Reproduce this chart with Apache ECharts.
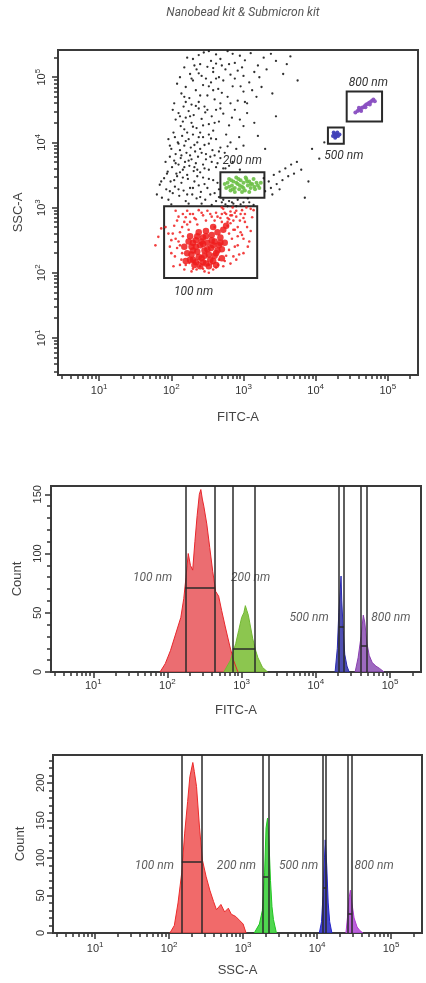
<!DOCTYPE html>
<html>
<head>
<meta charset="utf-8">
<script src="https://cdn.jsdelivr.net/npm/echarts@6/dist/echarts.min.js"></script>
<style>
html, body { margin: 0; padding: 0; background: #fff; }
#chart { width: 426px; height: 983px; }
</style>
</head>
<body>
<div id="chart"></div>
<script>
// all axes are log10 of the signal, range of the cytometer (top = 2^18)
const logMin = 0.43
const logMax = 5.418
const decades = [1, 2, 3, 4, 5]
const decadeExp = ['1', '2', '3', '4', '5']

// ---- dot plot FITC-A / SSC-A, [log FITC, log SSC] ----
const dotsNoise = [
  [2.45,5.38],[2.62,5.35],[2.78,5.40],[2.95,5.33],[3.10,5.37],[3.28,5.30],[2.30,5.28],[2.55,5.25],[2.88,5.22],[3.45,5.25],[2.70,5.18],
  [2.18,5.15],[2.26,5.05],[2.35,5.12],[2.42,5.02],[2.50,5.16],[2.58,5.08],[2.66,5.00],[2.75,5.12],[2.82,5.04],[2.92,5.10],[3.00,5.02],[3.15,5.08],[3.32,5.12],[3.55,5.05],[2.40,5.20],[2.62,5.21],[2.48,4.98],
  [2.08,4.90],[2.14,4.75],[2.20,4.85],[2.25,4.68],[2.30,4.95],[2.34,4.80],[2.38,4.62],[2.44,4.88],[2.50,4.72],[2.55,4.92],[2.60,4.66],[2.65,4.82],[2.72,4.95],[2.78,4.70],[2.85,4.86],[2.92,4.64],[3.00,4.78],[3.08,4.92],[3.18,4.70],[3.25,4.85],[2.28,4.58],[2.46,4.55],[2.68,4.60],[2.20,4.62],[3.40,4.75],
  [2.02,4.50],[2.06,4.35],[2.10,4.45],[2.13,4.25],[2.17,4.55],[2.20,4.38],[2.24,4.48],[2.28,4.30],[2.31,4.42],[2.35,4.22],[2.38,4.52],[2.42,4.36],[2.47,4.46],[2.52,4.28],[2.56,4.40],[2.62,4.50],[2.66,4.32],[2.72,4.44],[2.80,4.26],[2.88,4.50],[2.95,4.35],[3.05,4.45],[3.15,4.30],[2.18,4.20],[2.40,4.15],[2.58,4.18],[2.76,4.12],
  [1.96,4.05],[2.00,3.90],[2.03,4.15],[2.06,3.82],[2.09,4.00],[2.12,3.88],[2.15,4.10],[2.18,3.95],[2.21,3.84],[2.24,4.05],[2.27,3.92],[2.30,4.12],[2.33,3.86],[2.36,4.00],[2.40,3.90],[2.44,4.08],[2.48,3.82],[2.52,3.98],[2.57,3.88],[2.62,4.05],[2.68,3.92],[2.74,3.84],[2.82,4.00],[2.90,3.90],[3.00,3.95],[2.10,3.98],[2.26,3.80],[2.46,3.96],[2.60,3.80],
  [1.92,3.70],[1.95,3.55],[1.98,3.78],[2.01,3.62],[2.04,3.72],[2.07,3.52],[2.10,3.66],[2.13,3.76],[2.16,3.58],[2.19,3.70],[2.22,3.50],[2.25,3.64],[2.28,3.74],[2.31,3.56],[2.34,3.68],[2.37,3.78],[2.40,3.54],[2.44,3.66],[2.48,3.74],[2.52,3.58],[2.56,3.70],[2.62,3.62],[2.68,3.76],[2.75,3.60],[2.85,3.70],[2.95,3.58],[2.12,3.54],[2.32,3.62],
  [1.80,3.20],[1.84,3.35],[1.87,3.15],[1.90,3.45],[1.93,3.28],[1.96,3.12],[1.99,3.40],[2.02,3.22],[2.05,3.32],[2.08,3.48],[2.11,3.18],[2.14,3.38],[2.17,3.26],[2.20,3.10],[2.23,3.44],[2.26,3.30],[2.29,3.20],[2.32,3.40],[2.35,3.14],[2.38,3.34],[2.41,3.24],[2.44,3.46],[2.47,3.12],[2.50,3.30],[2.54,3.20],[2.58,3.42],[2.62,3.10],[2.66,3.28],[2.70,3.08],[2.75,3.05],[2.80,3.10],[2.86,3.06],[2.92,3.12],[3.00,3.08],[3.06,3.14],[2.00,3.05],[2.24,3.06],[2.42,3.06],[2.56,3.04],
  [3.30,3.25],[3.35,3.40],[3.38,3.30],[3.42,3.50],[3.46,3.36],[3.50,3.55],[3.54,3.42],[3.58,3.60],[3.62,3.48],[3.66,3.66],[3.70,3.52],[3.74,3.70],[3.40,3.20],[3.50,3.28],[3.28,3.45],[3.80,3.58],[3.95,3.90],[4.05,3.75],[4.12,4.00],[3.90,3.40],[3.85,3.15],
  [3.20,4.10],[3.30,3.90],[3.05,4.60],[3.45,4.40],[3.60,5.20],[3.75,4.95],
  [2.22,5.30],[2.38,5.34],[2.52,5.40],[2.68,5.28],[2.85,5.36],[3.02,5.26],[3.20,5.18],[3.38,5.36],[3.65,5.32],[2.32,5.18],[2.58,5.14],[2.80,5.20],[2.98,5.15],[3.22,5.00],
  [2.12,5.00],[2.28,4.98],[2.38,5.06],[2.52,4.86],[2.62,4.98],[2.70,4.76],[2.88,4.98],[2.96,4.86],[3.12,4.80],[2.18,4.70],[2.40,4.72],[2.58,4.80],[2.82,4.60],[3.02,4.62],
  [2.04,4.60],[2.12,4.40],[2.16,4.32],[2.26,4.40],[2.34,4.56],[2.44,4.26],[2.50,4.50],[2.60,4.30],[2.68,4.52],[2.84,4.38],[3.00,4.25],[2.22,4.15],[2.30,4.24],[2.52,4.12],
  [1.98,3.95],[2.05,4.08],[2.14,3.80],[2.20,4.02],[2.32,3.96],[2.38,4.08],[2.42,3.84],[2.55,4.06],[2.66,3.86],[2.78,3.94],[2.94,4.08],[2.06,3.68],[2.18,3.62],[2.24,3.72],[2.36,3.58],[2.46,3.60],[2.54,3.78],[2.64,3.68],[2.72,3.60],[2.80,3.64],
  [1.86,3.40],[1.94,3.52],[1.98,3.25],[2.04,3.42],[2.10,3.28],[2.16,3.46],[2.22,3.20],[2.30,3.30],[2.36,3.48],[2.40,3.16],[2.46,3.36],[2.52,3.44],[2.60,3.22],[2.64,3.38],[2.66,3.16],[2.72,3.12],[2.84,3.08],[2.96,3.05],[3.08,3.08],[3.14,3.04],[2.90,3.02],[2.78,3.02]
]
const dots100Core = [
  [2.22,2.30],[2.28,2.40],[2.30,2.20],[2.34,2.50],[2.36,2.32],[2.40,2.42],[2.42,2.22],[2.44,2.54],[2.46,2.34],[2.48,2.14],[2.50,2.46],[2.52,2.28],[2.55,2.38],
  [2.56,2.58],[2.58,2.18],[2.60,2.48],[2.62,2.30],[2.64,2.62],[2.66,2.42],[2.68,2.54],[2.70,2.22],[2.72,2.66],[2.74,2.46],[2.76,2.72],[2.26,2.56],
  [2.32,2.12],[2.38,2.62],[2.18,2.40],[2.20,2.18],[2.28,2.28],[2.52,2.10],[2.40,2.10],[2.48,2.64],[2.62,2.12],[2.70,2.36],[2.58,2.70],
  [2.34,2.40],[2.44,2.44],[2.54,2.20],[2.24,2.48],[2.30,2.34],[2.38,2.24],[2.46,2.26],[2.50,2.36],[2.58,2.42],[2.64,2.34],[2.56,2.50],
  [2.42,2.48],[2.30,2.46],[2.36,2.56],[2.48,2.56],[2.60,2.26],[2.68,2.46],[2.26,2.20],[2.34,2.16],[2.44,2.16]
]
const dots100 = [
  [1.98,2.40],[2.02,2.60],[2.05,2.25],[2.08,2.80],[2.10,2.48],[2.12,2.12],[2.06,2.95],[2.15,2.70],[2.15,2.30],[2.18,2.05],[2.20,2.85],[2.22,2.95],[2.25,2.15],
  [2.28,2.02],[2.30,2.90],[2.34,2.82],[2.38,2.96],[2.40,2.10],[2.44,2.88],[2.46,2.02],[2.50,2.95],[2.52,2.12],[2.56,2.86],[2.58,2.05],[2.62,2.92],[2.65,2.12],
  [2.68,2.84],[2.72,2.98],[2.74,2.18],[2.78,2.72],[2.80,2.35],[2.82,2.88],[2.84,2.52],[2.86,2.25],[2.88,2.66],[2.90,2.95],[2.92,2.42],[2.95,2.80],[2.98,2.58],
  [3.00,2.30],[3.02,2.90],[3.05,2.70],[3.08,2.48],[3.10,2.98],[3.12,2.85],[2.00,2.50],[2.12,2.62],[2.26,2.78],[2.35,2.05],[2.60,2.80],[2.76,2.90],[2.90,2.20],
  [2.96,2.62],[3.04,3.00],[2.85,3.00],[2.70,3.00],[1.92,2.70],[2.03,2.10],[2.16,2.90],[1.82,2.55],[1.86,2.68],[1.78,2.42],
  [2.00,2.30],[2.04,2.72],[2.08,2.38],[2.10,2.86],[2.14,2.20],[2.16,2.56],[2.18,2.78],[2.20,2.12],[2.24,2.66],[2.26,2.90],[2.30,2.06],[2.32,2.84],[2.36,2.74],
  [2.38,2.16],[2.42,2.92],[2.44,2.06],[2.48,2.80],[2.52,2.00],[2.54,2.90],[2.56,2.14],[2.60,2.70],[2.62,2.08],[2.64,2.86],[2.66,2.20],[2.70,2.78],[2.72,2.10],
  [2.74,2.92],[2.76,2.26],[2.80,2.60],[2.82,2.14],[2.86,2.80],[2.88,2.40],[2.92,2.70],[2.94,2.28],[2.96,2.90],[3.00,2.52],[3.02,2.78],[3.06,2.40],[3.10,2.64],
  [3.14,2.96],[2.82,2.94],[2.90,2.86],[2.98,2.96],[2.86,2.66],[2.78,2.84],[2.70,2.90],[2.92,2.56],[3.00,2.84],[2.06,2.52],[2.12,2.42],[1.96,2.60],[2.22,2.74],
  [2.80,2.82],[2.84,2.88],[2.88,2.92],[2.78,2.78],[2.82,2.76]
]
const dots200 = [
  [2.76,3.30],[2.78,3.38],[2.80,3.44],[2.82,3.26],[2.84,3.34],[2.86,3.40],[2.88,3.30],[2.90,3.46],[2.92,3.36],[2.94,3.28],[2.96,3.42],[2.98,3.32],[3.00,3.38],
  [3.02,3.26],[3.04,3.44],[3.06,3.34],[3.08,3.40],[3.10,3.30],[3.12,3.36],[3.14,3.44],[3.16,3.28],[3.18,3.38],[3.20,3.34],[3.22,3.30],[2.80,3.32],[2.85,3.28],
  [2.90,3.38],[2.95,3.34],[3.00,3.30],[3.05,3.40],[3.10,3.36],[3.15,3.32],[2.83,3.42],[2.93,3.44],[3.03,3.46],[2.88,3.24],[2.98,3.24],[3.08,3.24],[2.74,3.36],[3.24,3.38]
]
const dots500 = [[4.24,4.10],[4.26,4.13],[4.28,4.09],[4.29,4.12],[4.30,4.15],[4.27,4.07],[4.31,4.10],[4.25,4.15],[4.33,4.12],[4.28,4.11]]
const dots800 = [
  [4.55,4.46],[4.58,4.48],[4.60,4.50],[4.62,4.50],[4.64,4.53],[4.66,4.54],[4.68,4.56],[4.70,4.58],[4.72,4.59],
  [4.74,4.61],[4.76,4.62],[4.78,4.64],[4.80,4.66],[4.63,4.48],[4.69,4.54],[4.75,4.58],[4.60,4.53],[4.82,4.63]
]
// rectangular gates: [name, x1, x2, y1, y2]
const dotGates = [
  ['100 nm', 1.90, 3.19, 1.92, 3.02],
  ['200 nm', 2.68, 3.29, 3.15, 3.54],
  ['500 nm', 4.17, 4.39, 3.98, 4.23],
  ['800 nm', 4.43, 4.92, 4.32, 4.78]
]

// ---- FITC-A histogram, [log FITC, count] ----
const fitc100 = [[1.90,0],[1.97,7],[2.04,18],[2.11,32],[2.18,46],[2.22,62],[2.25,80],[2.28,100],[2.31,90],[2.34,86],[2.37,110],[2.40,132],[2.43,150],[2.45,154],[2.47,146],[2.49,140],[2.53,125],[2.57,105],[2.61,85],[2.65,68],[2.69,64],[2.73,52],[2.78,38],[2.84,22],[2.89,10],[2.95,0]]
const fitc200 = [[2.76,0],[2.85,10],[2.92,24],[2.96,35],[3.00,46],[3.03,50],[3.05,56],[3.07,52],[3.09,48],[3.12,38],[3.15,28],[3.19,18],[3.22,12],[3.28,4],[3.35,0]]
const fitc500 = [[4.26,0],[4.29,20],[4.31,50],[4.33,70],[4.34,81],[4.35,60],[4.37,35],[4.39,15],[4.42,5],[4.45,0]]
const fitc800 = [[4.53,0],[4.57,12],[4.61,30],[4.64,48],[4.66,42],[4.69,24],[4.72,14],[4.76,8],[4.81,5],[4.86,3],[4.92,0]]
// interval gates: [name, left, right, bar level]
const fitcGates = [['100 nm', 2.24, 2.64, 71], ['200 nm', 2.88, 3.18, 20], ['500 nm', 4.31, 4.38, 38], ['800 nm', 4.61, 4.69, 22]]

// ---- SSC-A histogram, [log SSC, count] ----
const ssc100 = [[2.01,0],[2.07,10],[2.12,40],[2.17,80],[2.21,133],[2.25,175],[2.28,208],[2.32,227],[2.34,215],[2.37,195],[2.41,141],[2.45,97],[2.50,75],[2.55,57],[2.60,42],[2.64,31],[2.70,38],[2.75,28],[2.80,33],[2.84,25],[2.90,22],[2.95,17],[3.00,12],[3.04,0]]
const ssc200 = [[3.15,0],[3.22,12],[3.26,30],[3.29,80],[3.31,140],[3.33,153],[3.35,120],[3.37,70],[3.39,35],[3.41,18],[3.45,0]]
const ssc500 = [[4.03,0],[4.06,15],[4.08,50],[4.10,100],[4.11,124],[4.13,90],[4.15,40],[4.17,15],[4.20,0]]
const ssc800 = [[4.39,0],[4.41,20],[4.43,45],[4.45,57],[4.47,40],[4.50,20],[4.54,8],[4.58,3],[4.62,0]]
const sscGates = [['100 nm', 2.17, 2.44, 95], ['200 nm', 3.27, 3.34, 75], ['500 nm', 4.08, 4.12, 60], ['800 nm', 4.42, 4.47, 25]]

// minor log ticks 2..9 of every decade
const minorLogs = []
for (let d = 0; d <= 5; d++) {
  for (let k = 2; k <= 9; k++) {
    const v = d + Math.log10(k)
    if (v > logMin && v < logMax) minorLogs.push(v)
  }
}

const dark = '#333'
const labelFont = { fontFamily: 'Liberation Sans', fontSize: 11, color: '#333' }
const nameFont = { fontFamily: 'Liberation Sans', fontSize: 13, color: '#444' }
const gateFont = { fontFamily: 'Roboto', fontStyle: 'italic', fontSize: 12, color: '#333' }
const powRich = {
  b: { fontFamily: 'Liberation Sans', fontSize: 11, color: '#333', lineHeight: 12 },
  e: { fontFamily: 'Liberation Sans', fontSize: 8, color: '#333', padding: [0, 0, 9, 0], lineHeight: 8 }
}

function logAxis(dim, grid, name, nameGap, margin) {
  const pos = dim === 'x' ? 'bottom' : 'left'
  return [{
    type: 'value', gridIndex: grid, min: logMin, max: logMax, position: pos,
    name: name, nameLocation: 'middle', nameGap: nameGap, nameTextStyle: nameFont,
    axisLine: { show: false }, splitLine: { show: false },
    axisTick: { customValues: decades, length: 6, lineStyle: { color: dark, width: 1.5 } },
    axisLabel: {
      customValues: decades, margin: margin, rotate: dim === 'y' ? 90 : 0, rich: powRich,
      formatter: v => '{b|10}{e|' + decadeExp[Math.round(v) - 1] + '}'
    }
  }, {
    type: 'value', gridIndex: grid, min: logMin, max: logMax, position: pos,
    axisLine: { show: false }, splitLine: { show: false }, axisLabel: { show: false },
    axisTick: { customValues: minorLogs, length: 4, lineStyle: { color: dark, width: 1.5 } }
  }]
}

function countAxis(grid, max, majors, minors, nameGap, margin) {
  return [{
    type: 'value', gridIndex: grid, min: 0, max: max, position: 'left',
    name: 'Count', nameLocation: 'middle', nameGap: nameGap, nameTextStyle: nameFont,
    axisLine: { show: false }, splitLine: { show: false },
    axisTick: { customValues: majors, length: 6, lineStyle: { color: dark, width: 1.5 } },
    axisLabel: Object.assign({ customValues: majors, margin: margin, rotate: 90 }, labelFont)
  }, {
    type: 'value', gridIndex: grid, min: 0, max: max, position: 'left',
    axisLine: { show: false }, splitLine: { show: false }, axisLabel: { show: false },
    axisTick: { customValues: minors, length: 4, lineStyle: { color: dark, width: 1.5 } }
  }]
}

function dotSeries(data, color, size, opacity) {
  return {
    type: 'scatter', xAxisIndex: 0, yAxisIndex: 0, data: data, symbolSize: size, silent: true,
    itemStyle: { color: color, opacity: opacity }
  }
}

function histSeries(panel, data, line, fill) {
  return {
    type: 'line', xAxisIndex: panel * 2, yAxisIndex: panel * 2, data: data, symbol: 'none', silent: true,
    lineStyle: { color: line, width: 1 }, areaStyle: { color: fill, opacity: 1 }
  }
}

// gate bars plus their text labels; label anchors in [log x, count]
function gateSeries(panel, gates, anchors) {
  const lines = []
  gates.forEach(g => {
    lines.push({ xAxis: g[1] }, { xAxis: g[2] })
    lines.push([{ coord: [g[1], g[3]] }, { coord: [g[2], g[3]] }])
  })
  return {
    type: 'scatter', xAxisIndex: panel * 2, yAxisIndex: panel * 2, z: 5, silent: true,
    symbolSize: 0,
    data: anchors.map((a, i) => [a[0], a[1], gates[i][0]]),
    label: Object.assign({ show: true, position: 'inside', formatter: p => p.data[2] }, gateFont),
    markLine: {
      silent: true, symbol: 'none', animation: false,
      label: { show: false },
      lineStyle: { color: '#2a2a2a', width: 1.5, type: 'solid' },
      data: lines
    }
  }
}

const gridBase = { show: true, borderColor: '#3a3a3a', borderWidth: 2, backgroundColor: 'transparent' }
const labelPos = { '100 nm': ['bottom', [-17, 3]], '200 nm': ['top', [0, 0]], '500 nm': ['bottom', [8, 1]], '800 nm': ['top', [4, 2]] }

const option = {
  animation: false,
  backgroundColor: '#fff',
  graphic: [{
    type: 'text', x: 243, y: 7,
    style: { text: 'Nanobead kit & Submicron kit', align: 'center', fontFamily: 'Roboto', fontStyle: 'italic', fontSize: 12, fill: '#555' }
  }],
  grid: [
    Object.assign({ left: 58, top: 50, width: 360, height: 325 }, gridBase),
    Object.assign({ left: 51, top: 486, width: 370, height: 186 }, gridBase),
    Object.assign({ left: 53, top: 755, width: 369, height: 178 }, gridBase)
  ],
  xAxis: [].concat(
    logAxis('x', 0, 'FITC-A', 36, 10),
    logAxis('x', 1, 'FITC-A', 32, 8),
    logAxis('x', 2, 'SSC-A', 31, 10)
  ),
  yAxis: [].concat(
    logAxis('y', 0, 'SSC-A', 33, 10),
    countAxis(1, 157, [0, 50, 100, 150], [10, 20, 30, 40, 60, 70, 80, 90, 110, 120, 130, 140], 23, 8),
    countAxis(2, 237, [0, 50, 100, 150, 200], [10, 20, 30, 40, 60, 70, 80, 90, 110, 120, 130, 140, 160, 170, 180, 190, 210, 220, 230], 22, 7)
  ),
  series: [
    Object.assign(dotSeries(dotsNoise, '#1a1a1a', 2.3, 0.9), {
      markArea: {
        silent: true,
        itemStyle: { color: 'rgba(0,0,0,0)', borderColor: '#2a2a2a', borderWidth: 2 },
        label: Object.assign({ show: true, formatter: '{b}', distance: 4 }, gateFont),
        data: dotGates.map(g => [
          { name: g[0], coord: [g[1], g[4]], label: { position: labelPos[g[0]][0], offset: labelPos[g[0]][1] } },
          { coord: [g[2], g[3]] }
        ])
      }
    }),
    dotSeries(dots100, '#f02020', 2.6, 0.85),
    dotSeries(dots100Core, '#ee1c1c', 6.5, 0.85),
    dotSeries(dots200, '#6cc046', 4, 0.9),
    dotSeries(dots500, '#4040b8', 4, 0.95),
    dotSeries(dots800, '#8a50c2', 4, 0.95),

    histSeries(1, fitc100, '#e8262c', 'rgba(232,84,88,0.85)'),
    histSeries(1, fitc200, '#72b833', 'rgba(128,192,60,0.9)'),
    histSeries(1, fitc500, '#2b2bb0', 'rgba(60,60,170,0.9)'),
    histSeries(1, fitc800, '#8a3fb0', 'rgba(140,80,180,0.85)'),
    gateSeries(1, fitcGates, [[1.80, 79], [3.12, 79], [3.91, 46], [5.01, 46]]),

    histSeries(2, ssc100, '#ec2a2a', 'rgba(238,80,80,0.85)'),
    histSeries(2, ssc200, '#22c422', 'rgba(60,210,60,0.9)'),
    histSeries(2, ssc500, '#2424c8', 'rgba(50,50,200,0.9)'),
    histSeries(2, ssc800, '#b03cd0', 'rgba(180,80,215,0.9)'),
    gateSeries(2, sscGates, [[1.80, 89], [2.91, 89], [3.75, 89], [4.77, 89]])
  ]
}

const chart = echarts.init(document.getElementById('chart'), null, { renderer: 'canvas' })
chart.setOption(option)
</script>
</body>
</html>
